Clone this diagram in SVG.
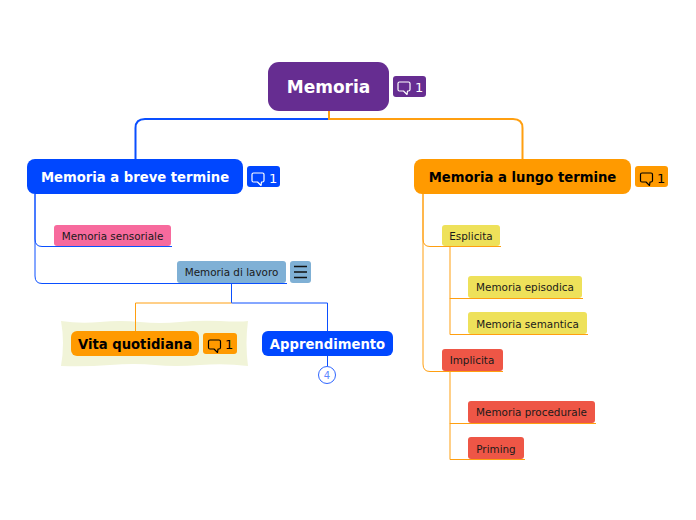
<svg xmlns="http://www.w3.org/2000/svg" width="696" height="520" viewBox="0 0 696 520">
<style>
text{font-family:"DejaVu Sans",sans-serif}
.b{font-weight:700;text-anchor:middle}
.m{font-size:13.200px}
.t{font-size:10.400px;fill:#1a1a1a;text-anchor:middle}
.c{font-size:13px}
.w{fill:#fff}
.k{fill:#000}
.blue{fill:#0047ff}
.org{fill:#ff9a00}
.pur{fill:#662d91}
.lb{fill:#7fb0d5}
.yel{fill:#eee15a}
.red{fill:#ee5646}
.pink{fill:#f76a9d}
.cn{fill:none;stroke-linecap:butt}
.sb{stroke:#0a4fff}
.so{stroke:#ff9f10}
.ic{fill:none;stroke-width:1.200;stroke-linejoin:round}
</style>
<defs>
<path id="bubble" d="M1 1.500Q1 0 2.500 0H11.500Q13 0 13 1.500V7.500Q13 9 11.500 9H10.500L10 12.500L6.500 9H2.500Q1 9 1 7.500Z"/>
</defs>
<rect width="696" height="520" fill="#fff"/>
<g id="connectors">
<path class="cn sb" stroke-width="2" d="M329 119H145Q135.500 119 135.500 128V159"/>
<path class="cn so" stroke-width="2" d="M329 111V119H513Q522.500 119 522.500 128V159"/>
<path class="cn sb" d="M35 194V239Q35 246.500 42 246.500H172"/>
<path class="cn sb" d="M35 194V276Q35 283.500 42 283.500H287"/>
<path class="cn sb" d="M231.500 283V303H327.500V331"/>
<path class="cn so" d="M231.500 303H135.500V331"/>
<path class="cn sb" d="M327.500 356V366"/>
<path class="cn so" d="M423 194V239Q423 246.500 430 246.500H501"/>
<path class="cn so" d="M423 194V364Q423 371.500 430 371.500H503"/>
<path class="cn so" d="M450 246V298.500H583M450 298V334.500H588"/>
<path class="cn so" d="M450 371V423.500H596M450 423V459.500H525"/>
</g>
<g id="node-memoria">
<rect class="pur" x="268" y="62" width="121" height="49" rx="11"/>
<text class="b w" x="328.500" y="93" font-size="17">Memoria</text>
<rect class="pur" x="393" y="76" width="33" height="21" rx="3"/>
<use href="#bubble" x="397" y="82" class="ic" stroke="#fff"/>
<text class="c w" x="415" y="92">1</text>
</g>
<g id="node-breve">
<rect class="blue" x="27" y="159" width="216" height="35" rx="8"/>
<text class="b w m" x="135" y="182">Memoria a breve termine</text>
<rect class="blue" x="247" y="166" width="33" height="21" rx="3"/>
<use href="#bubble" x="251" y="173" class="ic" stroke="#fff"/>
<text class="c w" x="269" y="183">1</text>
</g>
<g id="node-lungo">
<rect class="org" x="414" y="159" width="217" height="35" rx="8"/>
<text class="b k m" x="522.500" y="182">Memoria a lungo termine</text>
<rect class="org" x="635" y="166" width="33" height="21" rx="3"/>
<use href="#bubble" x="639.500" y="173" class="ic" stroke="#000"/>
<text class="c k" x="657" y="183">1</text>
</g>
<g id="node-sensoriale">
<rect class="pink" x="54" y="225" width="117" height="21" rx="3"/>
<text class="t" x="112.500" y="240">Memoria sensoriale</text>
</g>
<g id="node-lavoro">
<rect class="lb" x="177" y="261" width="109" height="22" rx="3"/>
<text class="t" x="231.500" y="276">Memoria di lavoro</text>
<rect class="lb" x="290" y="261" width="21" height="22" rx="3"/>
<path d="M294 266.500H307M294 272H307M294 277.500H307" stroke="#111" stroke-width="1.300" fill="none"/>
</g>
<g id="node-vita">
<path fill="#f1f4d8" d="M61 321Q80 324 100 322T140 322T180 322T220 321T248 321Q245 343 248 366Q225 363 200 365T155 365T110 365T61 366Q65 343 61 321Z"/>
<path class="cn so" d="M135.500 321V331"/>
<rect class="org" x="71" y="331" width="128" height="25" rx="6"/>
<text class="b k m" x="135" y="349">Vita quotidiana</text>
<rect class="org" x="203" y="333" width="34" height="21" rx="3"/>
<use href="#bubble" x="207.500" y="340" class="ic" stroke="#000"/>
<text class="c k" x="225" y="349">1</text>
</g>
<g id="node-apprendimento">
<rect class="blue" x="262" y="331" width="131" height="25" rx="6"/>
<text class="b w m" x="327.500" y="349">Apprendimento</text>
<circle cx="327" cy="375" r="8.500" fill="#fff" stroke="#2f66ff"/>
<text x="327" y="379" font-size="10" fill="#5f88ff" text-anchor="middle">4</text>
</g>
<g id="node-esplicita">
<rect class="yel" x="442" y="225" width="58" height="21" rx="3"/>
<text class="t" x="471" y="240">Esplicita</text>
</g>
<g id="node-episodica">
<rect class="yel" x="468" y="276" width="114" height="22" rx="3"/>
<text class="t" x="525" y="291">Memoria episodica</text>
</g>
<g id="node-semantica">
<rect class="yel" x="468" y="312" width="119" height="22" rx="3"/>
<text class="t" x="527.500" y="328">Memoria semantica</text>
</g>
<g id="node-implicita">
<rect class="red" x="442" y="349" width="61" height="22" rx="3"/>
<text class="t" x="472" y="364">Implicita</text>
</g>
<g id="node-procedurale">
<rect class="red" x="468" y="401" width="127" height="22" rx="3"/>
<text class="t" x="531.500" y="416">Memoria procedurale</text>
</g>
<g id="node-priming">
<rect class="red" x="468" y="437" width="56" height="22" rx="3"/>
<text class="t" x="496" y="453">Priming</text>
</g>
</svg>
